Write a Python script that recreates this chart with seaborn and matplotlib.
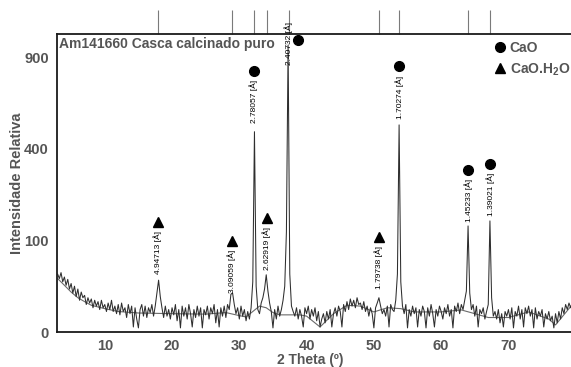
import numpy as np
import pandas as pd
import matplotlib
matplotlib.use("Agg")
import matplotlib.pyplot as plt
import matplotlib.transforms as mtransforms
from matplotlib.lines import Line2D
import seaborn as sns

# ---------------- data ----------------
theta_start, theta_step = 3.0, 0.25
intensity = [
    40, 34, 42, 30,      # 3
    36, 26, 33, 22,      # 4
    28, 18, 25, 15,      # 5
    22, 12, 19, 14,      # 6
    16, 9, 14, 10,       # 7
    13, 7, 12, 8,        # 8
    11, 6, 12, 7,        # 9
    9, 5, 10, 6,         # 10
    12, 5, 8, 4,         # 11
    9, 3.5, 10, 5,       # 12
    7, 2.5, 9, 4,        # 13
    8, 0.3, 7, 2,        # 14
    0.2, 6, 9, 3,        # 15
    8, 2.5, 7, 4.5,      # 16
    9, 3, 8, 18,         # 17
    32, 15, 7, 2.5,      # 18
    8, 3, 6, 2,          # 19
    7, 3.5, 9, 1.5,      # 20
    6, 0.2, 8, 3,        # 21
    7, 2, 9, 4,          # 22
    0.3, 6, 2.5, 8,      # 23
    3, 7, 0.2, 6,        # 24
    3.5, 8, 2, 7,        # 25
    4, 9, 1, 6,          # 26
    0.3, 7, 3, 8,        # 27
    2.5, 9, 6, 17,       # 28
    18, 9, 4, 7,         # 29
    2, 8, 3, 6,          # 30
    1.5, 5, 2, 7,        # 31
    30, 478, 25, 6,      # 32
    4, 10, 14, 22,       # 33
    39, 20, 10, 5,       # 34
    0.2, 6, 2, 8,        # 35
    3, 6, 12, 25,        # 36
    120, 980, 40, 8,     # 37
    5, 3, 7, 2,          # 38
    6, 3, 0.3, 7,        # 39
    4, 8, 2, 6,          # 40
    3, 7, 1.5, 5,        # 41
    0.3, 2, 4, 1,        # 42
    5, 2, 6, 0.3,        # 43
    4, 7, 3, 8,          # 44
    5, 0.3, 9, 5,        # 45
    11, 6, 13, 8,        # 46
    12, 7, 14, 9,        # 47
    10, 6, 11, 5,        # 48
    8, 3, 7, 4,          # 49
    0.2, 7, 10, 14,      # 50
    8, 4, 6, 3,          # 51
    8, 0.3, 9, 6,        # 52
    5, 12, 40, 511,      # 53
    30, 8, 4, 9,         # 54
    0.2, 6, 3, 8,        # 55
    4, 7, 0.3, 6,        # 56
    3, 8, 5, 0.2,        # 57
    7, 3, 9, 4,          # 58
    0.3, 6, 3, 8,        # 59
    5, 2, 7, 4,          # 60
    9, 3, 6, 0.2,        # 61
    8, 5, 10, 4,         # 62
    9, 6, 12, 20,        # 63
    134, 18, 6, 9,       # 64
    3, 8, 0.3, 6,        # 65
    4, 7, 2, 5,          # 66
    9, 147, 14, 3,       # 67
    5, 2, 6, 1,          # 68
    4, 0.3, 5, 3,        # 69
    6, 2, 7, 0.2,        # 70
    5, 3, 8, 2,          # 71
    6, 0.3, 7, 4,        # 72
    8, 3, 6, 0.2,        # 73
    7, 2, 5, 3,          # 74
    6, 0.3, 4, 2,        # 75
    5, 1.5, 3, 0.2,      # 76
    4, 1, 5, 2,          # 77
    7, 4, 9, 6,          # 78
    10, 7, 11,           # 79
]
two_theta = theta_start + theta_step * np.arange(len(intensity))

bg_theta = [3, 4, 5, 6, 7, 8, 10, 12, 15, 20, 25, 28, 30, 31, 32, 33, 34, 35, 36,
            39, 40, 42, 44, 46, 48, 50, 52, 54, 56, 60, 63, 65, 67, 70, 73, 76, 77, 79.5]
bg_int = [34, 26, 19, 14, 11, 8.5, 6.5, 5, 4.3, 4, 3.8, 4.5, 3.2, 2.7, 5, 8, 7, 4.5, 3.5,
          3.5, 3, 0.3, 4, 8.5, 8, 4.8, 7, 6.5, 4.8, 4.8, 5.8, 4, 2.5, 2.5, 4.8, 2, 0.6, 9]

peak_theta = [17.91, 28.87, 32.17, 34.07, 37.32, 50.75, 53.79, 64.06, 67.29]
peak_labels = ["4.94713 [Å]", "3.09059 [Å]", "2.78057 [Å]", "2.62919 [Å]", "2.40732 [Å]",
               "1.79738 [Å]", "1.70274 [Å]", "1.45233 [Å]", "1.39021 [Å]"]
peak_phase = ["CaO.H2O", "CaO.H2O", "CaO", "CaO.H2O", "CaO",
              "CaO.H2O", "CaO", "CaO", "CaO"]
marker_theta = [17.91, 28.87, 32.17, 34.07, 38.7, 50.75, 53.79, 64.06, 67.29]
marker_int = [145, 99, 813, 155, 1018, 108, 840, 313, 337]

y_ticks = [0, 100, 400, 900]
x_ticks = [10, 20, 30, 40, 50, 60, 70]

title_text = "Am141660 Casca calcinado puro"
x_label = "2 Theta (º)"
y_label = "Intensidade Relativa"

# ---------------- style ----------------
sns.set_theme(style="white")
plt.rcParams["font.family"] = ["Liberation Sans", "DejaVu Sans"]
plt.rcParams["mathtext.fontset"] = "custom"
plt.rcParams["mathtext.rm"] = "Liberation Sans:bold"
plt.rcParams["mathtext.it"] = "Liberation Sans:bold"
plt.rcParams["mathtext.bf"] = "Liberation Sans:bold"
gray = "#555555"

fig = plt.figure(figsize=(5.71, 3.67), dpi=100)
ax = fig.add_axes([57 / 571, 1 - 332 / 367, 1 - 57 / 571, (332 - 34) / 367])

df = pd.DataFrame({"theta": two_theta, "I": intensity})
dfb = pd.DataFrame({"theta": bg_theta, "I": bg_int})
sns.lineplot(data=dfb, x="theta", y="I", ax=ax, color="#6a6a6a", lw=0.8,
             estimator=None, sort=True)
sns.lineplot(data=df, x="theta", y="I", ax=ax, color="#2e2e2e", lw=0.75,
             estimator=None, sort=True)

ax.set_yscale("function", functions=(lambda v: np.sqrt(np.clip(v, 0, None)),
                                     lambda v: np.square(v)))
ax.set_xlim(2.9, 79.3)
ax.set_ylim(0, 1058)

ax.set_yticks(y_ticks)
ax.set_yticklabels([str(t) for t in y_ticks])
ax.set_xticks(x_ticks)
ax.set_xticks(np.arange(3, 80, 1), minor=True)
ax.yaxis.set_minor_locator(matplotlib.ticker.NullLocator())
ax.tick_params(axis="both", which="major", direction="out", length=4, width=1,
               color="black", labelsize=10.5, labelcolor=gray, pad=2)
ax.tick_params(axis="x", which="minor", direction="out", length=2.5, width=0.8,
               color="black")
ax.tick_params(axis="x", which="major", length=5, pad=0)
for lab in ax.get_xticklabels() + ax.get_yticklabels():
    lab.set_fontweight("bold")

for s in ["left", "bottom", "top"]:
    ax.spines[s].set_visible(True)
    ax.spines[s].set_color("#1a1a1a")
    ax.spines[s].set_linewidth(1.3)
ax.spines["right"].set_visible(False)

ax.set_xlabel(x_label, fontsize=10, fontweight="bold", color=gray)
ax.xaxis.set_label_coords((310 - 57) / 514, -(353 - 332) / 298)
ax.set_ylabel(y_label, fontsize=10.5, fontweight="bold", color=gray)
ax.yaxis.set_label_coords(-(57 - 24) / 514, 0.5)

ax.text(0.003, 0.99, title_text, transform=ax.transAxes, ha="left", va="top",
        fontsize=10, fontweight="bold", color=gray)

# reference ticks above the frame
trans = mtransforms.blended_transform_factory(ax.transData, ax.transAxes)
ax.vlines(peak_theta, 1.0, 1.0 + 24 / 298, transform=trans, colors="#7a7a7a",
          lw=0.8, clip_on=False)

# markers and labels
label_offsets = [-6.5, -6.5, -6.5, -6.5, 13, -6.5, -6.5, -6.5, -6.5]
for th, lab, ph, mth, mi, off in zip(peak_theta, peak_labels, peak_phase,
                                     marker_theta, marker_int, label_offsets):
    mk = "o" if ph == "CaO" else "^"
    ax.plot([mth], [mi], marker=mk, color="black", markersize=7, ls="none",
            clip_on=False)
    ax.annotate(lab, xy=(th, mi), xytext=(0, off), textcoords="offset points",
                rotation=90, ha="center", va="top", fontsize=6, color="black",
                annotation_clip=False)

handles = [Line2D([], [], marker="o", color="black", ls="none", markersize=7),
           Line2D([], [], marker="^", color="black", ls="none", markersize=7)]
leg = ax.legend(handles, ["CaO", "CaO.H$_2$O"], loc="upper left",
                bbox_to_anchor=(0.84, 0.995), frameon=False, handlelength=0.8,
                handletextpad=0.3, labelspacing=0.45, borderaxespad=0,
                prop={"weight": "bold", "size": 10})
for t in leg.get_texts():
    t.set_color(gray)

fig.savefig("out.png", dpi=100)
